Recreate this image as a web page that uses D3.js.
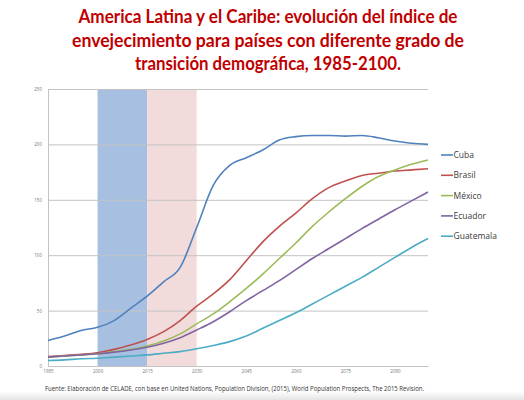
<!DOCTYPE html>
<html>
<head>
<meta charset="utf-8">
<script src="https://cdn.jsdelivr.net/npm/d3@7"></script>
<style>
  html, body { margin: 0; padding: 0; background: #fff; }
  svg { display: block; }
</style>
</head>
<body>
<svg id="chart" width="524" height="400"></svg>
<script>
let years = [1985, 1990, 1995, 2000, 2005, 2010, 2015, 2020, 2025, 2030, 2035, 2040,
             2045, 2050, 2055, 2060, 2065, 2070, 2075, 2080, 2085, 2090, 2095, 2100];

let cuba      = [23, 27, 32, 35, 41, 52, 63, 76, 89, 125, 163, 181,
                 188, 195, 204, 207, 208, 208, 207.5, 208, 206, 203, 201, 200];
let brasil    = [8.5, 9.5, 10.5, 12, 15, 19, 24, 31, 41, 54, 65, 78,
                 95, 112, 126, 138, 151, 161, 167, 172, 174, 176, 177, 178];
let mexico    = [8, 9, 10, 11, 13, 15, 18, 22.5, 29, 38, 47, 58,
                 70, 83, 97, 111, 126, 139, 151, 162, 171, 177, 182, 186];
let ecuador   = [8, 9, 10, 11, 12.5, 14.5, 17, 20.5, 25.5, 32.5, 40, 49,
                 59, 68, 77, 87, 97, 106, 115, 124, 132.5, 141, 149, 157];
let guatemala = [5, 5.5, 6.5, 7, 8, 9, 10, 11.5, 13, 15.5, 18.5, 22,
                 27, 34, 41, 48, 56, 64, 72, 80, 89, 98, 107, 115];

let seriesNames = ["Cuba", "Brasil", "México", "Ecuador", "Guatemala"];
let seriesValues = [cuba, brasil, mexico, ecuador, guatemala];

let yTicks = [0, 50, 100, 150, 200, 250];
let xTicks = [1985, 2000, 2015, 2030, 2045, 2060, 2075, 2090];

// shaded periods
let bands = [[2000, 2015], [2015, 2030]];

let titleLines = [
  "America Latina y el Caribe: evolución del índice de",
  "envejecimiento para países con diferente grado de",
  "transición demográfica, 1985-2100."
];
let footnote = "Fuente:  Elaboración de CELADE, con base en United Nations, Population Division, (2015), World Population Prospects, The 2015 Revision.";

let lineColors = ["#4f81bd", "#c0504d", "#9bbb59", "#8064a2", "#4bacc6"];
let bandColors = ["#a7bfe0", "#f2dbdb"];
let gridColor = "#c3c3c3", labelColor = "#3a3a3a", titleColor = "#c00000";
let font_family = "'Open Sans', Lato, sans-serif";

let svg = d3.select("#chart");

// bottom shadow strip
let defs = svg.append("defs");
let grad = defs.append("linearGradient")
    .attr("id", "foot_grad")
    .attr("x1", 0).attr("y1", 0).attr("x2", 0).attr("y2", 1);
grad.append("stop").attr("offset", "0%").attr("stop-color", "#ffffff");
grad.append("stop").attr("offset", "100%").attr("stop-color", "#e4e4e4");
svg.append("rect")
    .attr("x", 0).attr("y", 391).attr("width", 524).attr("height", 9)
    .attr("fill", "url(#foot_grad)");

// title
let widths = [379, 392, 266];
svg.append("g")
  .selectAll("text")
  .data(titleLines)
  .enter()
  .append("text")
    .attr("x", 268)
    .attr("y", (d, i) => 23 + i * 23.5)
    .attr("text-anchor", "middle")
    .attr("textLength", (d, i) => widths[i])
    .attr("lengthAdjust", "spacingAndGlyphs")
    .style("font-family", "Lato, 'Open Sans', sans-serif")
    .style("font-weight", "bold")
    .style("font-size", "19.5px")
    .style("fill", titleColor)
    .text(d => d);

let x = d3.scaleLinear().domain([1985, 2100]).range([48, 428]);
let y = d3.scaleLinear().domain([0, 250]).range([366, 89]);

// bands
svg.append("g")
  .selectAll("rect")
  .data(bands)
  .enter()
  .append("rect")
    .attr("x", d => x(d[0]))
    .attr("y", y(250))
    .attr("width", d => x(d[1]) - x(d[0]))
    .attr("height", y(0) - y(250))
    .attr("fill", (d, i) => bandColors[i]);

// gridlines + y labels
let yAxis = svg.append("g")
    .attr("transform", `translate(${x(1985)},0)`)
    .call(d3.axisLeft(y).tickValues(yTicks).tickSize(-(x(2100) - x(1985))).tickPadding(6));
yAxis.select(".domain").attr("stroke", gridColor);
yAxis.selectAll(".tick line").attr("stroke", gridColor).attr("stroke-width", 1);
yAxis.selectAll("text")
    .style("font-family", font_family)
    .style("font-size", "4.5px")
    .style("fill", "#777");

let xAxis = svg.append("g")
    .attr("transform", `translate(0,${y(0)})`)
    .call(d3.axisBottom(x).tickValues(xTicks).tickSize(0).tickPadding(4).tickFormat(d3.format("d")));
xAxis.select(".domain").attr("stroke", gridColor);
xAxis.selectAll("text")
    .style("font-family", font_family)
    .style("font-size", "4.5px")
    .style("fill", "#777");

// lines
let line = d3.line()
    .x((d, i) => x(years[i]))
    .y(d => y(d))
    .curve(d3.curveMonotoneX);

svg.append("g")
  .selectAll("path")
  .data(seriesValues)
  .enter()
  .append("path")
    .attr("d", d => line(d))
    .attr("fill", "none")
    .attr("stroke", (d, i) => lineColors[i])
    .attr("stroke-width", 1.6)
    .attr("stroke-linejoin", "round");

// legend
let legend = svg.append("g")
    .attr("class", "legend")
    .attr("transform", "translate(441, 155)");

let g = legend.selectAll(".legend_item")
  .data(seriesNames)
  .enter()
  .append("g")
    .attr("class", "legend_item")
    .attr("transform", (d, i) => `translate(0, ${i * 20.3})`);

g.append("line")
    .attr("x1", 0).attr("x2", 12)
    .attr("y1", 0).attr("y2", 0)
    .attr("stroke", (d, i) => lineColors[i])
    .attr("stroke-width", 1.6);

g.append("text")
    .attr("x", 12.5)
    .attr("y", 3)
    .style("font-family", font_family)
    .style("font-size", "8.5px")
    .style("fill", labelColor)
    .text(d => d);

// source note
svg.append("text")
    .attr("x", 45)
    .attr("y", 391)
    .attr("textLength", 379)
    .attr("lengthAdjust", "spacingAndGlyphs")
    .style("font-family", font_family)
    .style("font-size", "6.5px")
    .style("fill", "#333")
    .text(footnote);
</script>
</body>
</html>
